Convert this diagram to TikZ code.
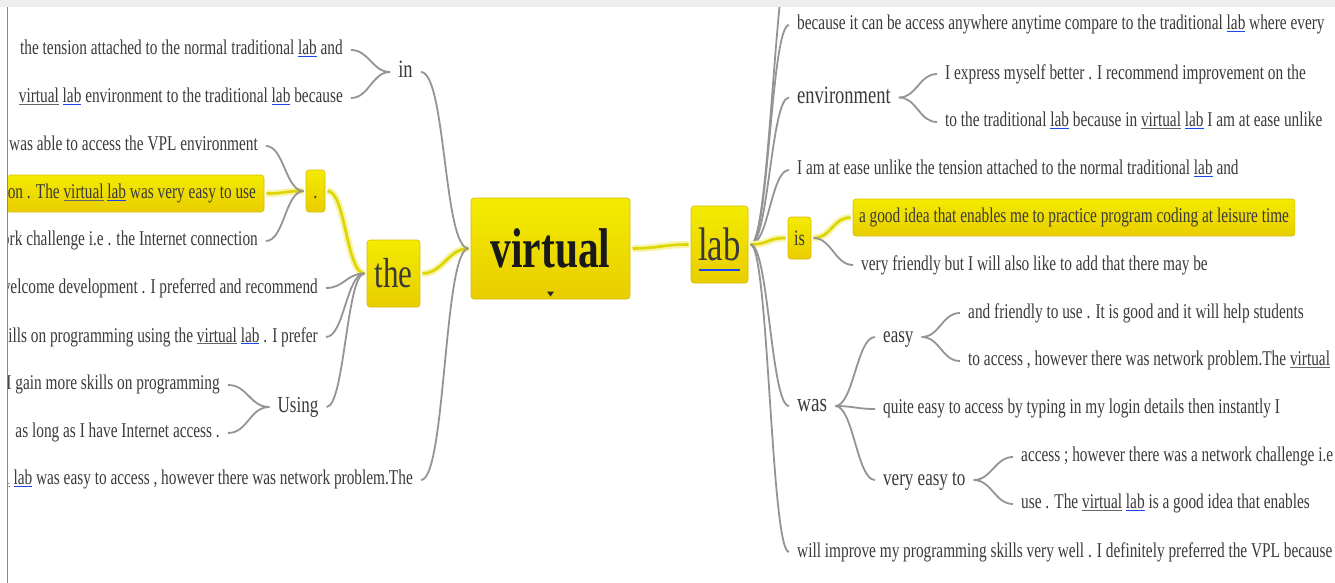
\documentclass[tikz,border=0pt]{standalone}
\usepackage{fontspec}
\setmainfont{Liberation Serif}
\newfontfamily\nf{Liberation Serif}[FakeStretch=0.74]
\newfontfamily\lf{Liberation Serif}[FakeStretch=0.73]
\usetikzlibrary{calc}
\definecolor{txt}{HTML}{3A3A3A}
\definecolor{ytop}{HTML}{F3EB00}
\definecolor{ybot}{HTML}{E9CD00}
\definecolor{ybord}{HTML}{D6BE00}
\definecolor{yline}{HTML}{DDD400}
\definecolor{yglow}{HTML}{F7F4A8}
\definecolor{lgray}{HTML}{949494}
\definecolor{ublue}{HTML}{1E46E6}
\definecolor{ugray}{HTML}{666666}
\definecolor{band}{HTML}{EDEDED}
\definecolor{bordgray}{HTML}{8A8A8A}
\newcommand\ulab{{\color{ublue}\underline{\textcolor{txt}{lab}}}}
\newcommand\uvir{{\color{ugray}\underline{\textcolor{txt}{virtual}}}}
\newcommand\uvl{{\color{ugray}\underline{\textcolor{txt}{l}}}}
\newcommand\mstrut{\rule[-0.22em]{0pt}{0.9em}}
\newcommand\rlink[4][gl]{\draw[#1] (#2) .. controls +(#4,0) and +(-#4,0) .. (#3);}
\newcommand\llink[4][gl]{\draw[#1] (#2) .. controls +(-#4,0) and +(#4,0) .. (#3);}
\pgfdeclarelayer{bg}
\pgfsetlayers{bg,main}
\tikzset{
  leaf/.style={font=\lf\fontsize{21}{24}\selectfont, text=txt, inner xsep=8pt, inner ysep=0pt, execute at begin node=\mstrut},
  lbl/.style={font=\nf\fontsize{#1}{#1}\selectfont, text=txt, inner xsep=8pt, inner ysep=0pt, execute at begin node=\mstrut},
  ybox/.style={rounded corners=3pt, top color=ytop, bottom color=ybot, draw=ybord, line width=0.6pt, outer sep=2.5pt},
  gl/.style={draw=lgray, line width=1.8pt},
  yl/.style={draw=yline, line width=2.6pt, preaction={draw=yglow, line width=7pt}},
}
\begin{document}
\begin{tikzpicture}[x=1pt,y=-1pt]
\useasboundingbox (0,0) rectangle (1335,583);
\begin{scope}
\clip (8.5,7) rectangle (1335,583);
% central nodes
\node[ybox, inner sep=0pt, minimum width=159pt, minimum height=101pt, font=\nf\bfseries\fontsize{56}{56}\selectfont, text=black!90] (virtual) at (550.5,248.5) {virtual};
\fill[black!85] ($(virtual.south)+(-3.5,-10)$) -- ++(7,0) -- ++(-3.5,5) -- cycle;
\node[ybox, inner sep=0pt, minimum width=57pt, minimum height=77pt, font=\nf\fontsize{47}{47}\selectfont, text=txt] (lab) at (719.5,244.5) {\raisebox{-3pt}{lab}};
\draw[ublue, line width=2.5pt] ($(lab.center)+(-20.5,25.5)$) -- ++(41,0);
\node[ybox, inner sep=0pt, minimum width=53pt, minimum height=67pt, font=\nf\fontsize{42}{42}\selectfont, text=txt] (the) at (393.5,273.5) {the};
\node[ybox, inner sep=0pt, minimum width=19pt, minimum height=42pt, font=\nf\fontsize{22}{22}\selectfont, text=txt] (dot) at (315.5,191) {\raisebox{-7pt}[0pt][0pt]{.}};
\node[ybox, inner sep=0pt, minimum width=23pt, minimum height=42pt, font=\nf\fontsize{22}{22}\selectfont, text=txt] (is) at (799.5,238) {is};
% left side
\node[lbl=25] (in) at (405.5,72) {in};
\node[lbl=23] (using) at (298,407) {Using};
\node[leaf, anchor=east] (l1) at (351,50) {the tension attached to the normal traditional \ulab{} and};
\node[leaf, anchor=east] (l2) at (351,98) {\uvir{} \ulab{} environment to the traditional \ulab{} because};
\node[leaf, anchor=east] (l3) at (266,146) {was able to access the VPL environment};
\node[leaf, ybox, inner sep=0pt, inner xsep=8pt, minimum height=37pt, anchor=east] (l4) at (266.5,193.5) {\makebox[270pt][r]{on . The \uvir{} \ulab{} was very easy to use}};
\node[leaf, anchor=east] (l5) at (266,241) {ork challenge i.e . the Internet connection};
\node[leaf, anchor=east] (l6) at (326,288) {velcome development . I preferred and recommend};
\node[leaf, anchor=east] (l7) at (326,337) {ills on programming using the \uvir{} \ulab{} . I prefer};
\node[leaf, anchor=east] (l8) at (228,385) {I gain more skills on programming};
\node[leaf, anchor=east] (l9) at (228,433) {as long as I have Internet access .};
\node[leaf, anchor=east] (l10) at (421,480) {\uvl{} \ulab{} was easy to access , however there was network problem.The};
% right side
\node[leaf, anchor=west] (r1) at (789,25) {because it can be access anywhere anytime compare to the traditional \ulab{} where every};
\node[lbl=25, anchor=west] (env) at (789,97.5) {environment};
\node[leaf, anchor=west] (r2) at (937,74) {I express myself better . I recommend improvement on the};
\node[leaf, anchor=west] (r3) at (937,122) {to the traditional \ulab{} because in \uvir{} \ulab{} I am at ease unlike};
\node[leaf, anchor=west] (r4) at (789,170) {I am at ease unlike the tension attached to the normal traditional \ulab{} and};
\node[leaf, ybox, inner sep=0pt, inner xsep=6pt, minimum height=37pt, anchor=west] (r5) at (850.5,217.5) {a good idea that enables me to practice program coding at leisure time};
\node[leaf, anchor=west] (r6) at (853,265) {very friendly but I will also like to add that there may be};
\node[lbl=26, anchor=west] (was) at (789,406) {was};
\node[lbl=23, anchor=west] (easy) at (875,337) {easy};
\node[leaf, anchor=west] (r7) at (960,313) {and friendly to use . It is good and it will help students};
\node[leaf, anchor=west] (r8) at (960,361) {to access , however there was network problem.The \uvir};
\node[leaf, anchor=west] (r9) at (875,409) {quite easy to access by typing in my login details then instantly I};
\node[lbl=23, anchor=west] (vet) at (875,480) {very easy to};
\node[leaf, anchor=west] (r10) at (1013,457) {access ; however there was a network challenge i.e};
\node[leaf, anchor=west] (r11) at (1013,504) {use . The \uvir{} \ulab{} is a good idea that enables};
\node[leaf, anchor=west] (r12) at (789,552) {will improve my programming skills very well . I definitely preferred the VPL because};
\coordinate (offtop) at (795,-70);
\end{scope}
\begin{pgfonlayer}{bg}
\fill[white] (0,0) rectangle (1335,583);
\begin{scope}
\clip (8.5,7) rectangle (1335,583);
\rlink[yl]{virtual.east}{lab.west}{25}
\llink[yl]{virtual.west}{the.east}{20}
\llink{virtual.west}{in.east}{25}
\llink{virtual.west}{l10.east}{25}
\llink{in.west}{l1.east}{18}
\llink{in.west}{l2.east}{18}
\llink[yl]{the.west}{dot.east}{18}
\llink{the.west}{l6.east}{18}
\llink{the.west}{l7.east}{18}
\llink{the.west}{using.east}{18}
\llink[yl]{dot.west}{l4.east}{18}
\llink{dot.west}{l3.east}{18}
\llink{dot.west}{l5.east}{18}
\llink{using.west}{l8.east}{20}
\llink{using.west}{l9.east}{20}
\rlink{lab.east}{offtop}{20}
\rlink{lab.east}{r1.west}{18}
\rlink{lab.east}{env.west}{18}
\rlink{lab.east}{r4.west}{18}
\rlink[yl]{lab.east}{is.west}{18}
\rlink{lab.east}{was.west}{18}
\rlink{lab.east}{r12.west}{18}
\rlink{env.east}{r2.west}{18}
\rlink{env.east}{r3.west}{18}
\rlink[yl]{is.east}{r5.west}{18}
\rlink{is.east}{r6.west}{18}
\rlink{was.east}{easy.west}{18}
\rlink{was.east}{r9.west}{18}
\rlink{was.east}{vet.west}{18}
\rlink{easy.east}{r7.west}{18}
\rlink{easy.east}{r8.west}{18}
\rlink{vet.east}{r10.west}{18}
\rlink{vet.east}{r11.west}{18}
\end{scope}
\end{pgfonlayer}
\fill[band] (0,0) rectangle (1335,7);
\draw[bordgray, line width=1.5pt] (7.5,7) -- (7.5,583);
\end{tikzpicture}
\end{document}
